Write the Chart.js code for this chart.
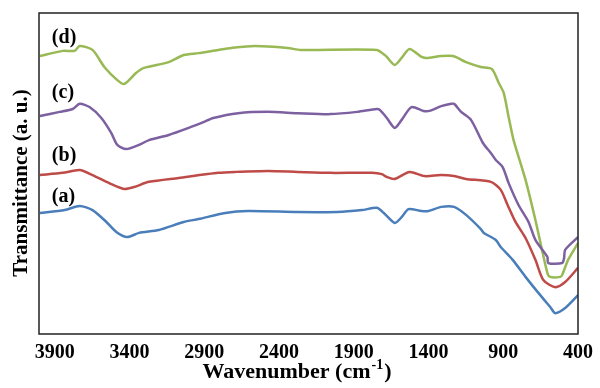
<!DOCTYPE html>
<html>
<head>
<meta charset="utf-8">
<script src="https://cdn.jsdelivr.net/npm/chart.js@4"></script>
<style>
body { margin: 0; background: #fff; }
#wrap { width: 600px; height: 388px; }
</style>
</head>
<body>
<div id="wrap"><canvas id="ftir"></canvas></div>
<script>
// x tick labels (wavenumber, cm-1)
var tickVals = [3900, 3400, 2900, 2400, 1900, 1400, 900, 400];

// (a) blue
var wnA = [4000,3834,3734,3648,3555,3489,3416,3337,3204,3038,2939,2760,2607,2276,2011,1845,1746,1699,1626,1580,1534,1447,1401,1315,1229,1149,1050,1030,950,917,837,751,665,586,552,486,400];
var tA = [37.7,38.6,39.9,38.6,34.9,31.8,30.2,31.5,32.4,34.9,35.8,37.7,38.3,38.0,38.0,38.6,39.3,37.7,34.6,36.4,38.9,38.3,38.3,39.6,39.6,37.1,32.7,31.5,29.3,27.1,23.1,17.8,12.8,8.4,6.5,8.1,12.1];

// (b) red
var wnB = [4000,3847,3734,3648,3536,3436,3370,3270,3072,2806,2694,2475,2276,2057,1779,1712,1679,1626,1527,1428,1315,1229,1149,983,917,871,818,751,685,632,552,486,400];
var tB = [49.5,50.2,51.1,49.5,47.0,45.2,45.8,47.4,48.6,50.2,50.5,50.8,50.5,50.2,50.2,49.8,48.9,48.3,50.5,49.2,49.5,49.2,48.3,47.4,44.9,40.2,34.9,29.9,23.1,16.8,14.6,16.2,20.6];

// (c) purple
var wnC = [4000,3867,3781,3734,3668,3589,3522,3482,3423,3337,3270,3138,3005,2906,2840,2674,2475,2276,2057,1878,1746,1726,1679,1626,1580,1514,1434,1394,1315,1248,1229,1182,1116,1036,983,950,904,864,798,731,685,605,599,506,493,486,400];
var tC = [67.9,69.2,70.1,71.7,70.7,67.3,62.6,58.9,57.6,58.9,60.4,62.0,64.2,66.0,67.3,68.8,69.2,68.8,68.5,69.2,70.1,69.8,67.3,64.2,66.7,70.7,69.5,69.5,71.0,71.7,71.7,69.2,66.7,59.5,56.4,54.2,52.0,47.0,40.2,34.9,29.3,24.0,22.1,22.1,23.7,26.2,30.2];

// (d) green
var wnD = [4000,3847,3768,3734,3648,3569,3482,3436,3357,3304,3138,3038,2939,2806,2720,2561,2342,2256,1746,1693,1679,1626,1580,1527,1447,1414,1315,1235,1149,1050,977,930,897,864,831,751,685,605,586,519,506,466,400];
var tD = [86.6,88.2,88.2,89.7,88.5,83.2,79.1,77.9,81.3,82.9,84.7,86.9,87.5,88.5,89.1,89.7,89.1,88.5,88.5,86.9,86.3,83.8,86.0,88.8,86.3,86.0,86.6,86.6,84.7,83.2,82.6,78.2,75.1,67.6,60.4,48.0,35.5,19.0,17.8,17.8,18.4,23.1,28.3];

var curveNames = ["(a)", "(b)", "(c)", "(d)"];
var nameY = [42.7, 55.5, 75.1, 92.2];
var nameX = 3920;

function pts(wn, t) {
  var out = [];
  for (var i = 0; i < wn.length; i++) out.push({x: wn[i], y: t[i]});
  return out;
}

function line(lbl, wn, t, col) {
  return {
    label: lbl,
    data: pts(wn, t),
    borderColor: col,
    borderWidth: 2.5,
    pointRadius: 0,
    tension: 0.25,
    fill: false
  };
}

var serif = '"Liberation Serif", "Times New Roman", serif';

var decor = {
  id: 'decor',
  afterDatasetsDraw: function (chart) {
    var ctx = chart.ctx;
    var a = chart.chartArea;
    var xs = chart.scales.x, ys = chart.scales.y;
    ctx.save();
    ctx.strokeStyle = '#222';
    ctx.lineWidth = 1.5;
    ctx.strokeRect(a.left, a.top, a.right - a.left, a.bottom - a.top);

    ctx.fillStyle = '#000';
    ctx.font = 'bold 20px ' + serif;
    ctx.textAlign = 'left';
    ctx.textBaseline = 'middle';
    for (var i = 0; i < curveNames.length; i++) {
      ctx.fillText(curveNames[i], xs.getPixelForValue(nameX), ys.getPixelForValue(nameY[i]));
    }

    // y title
    ctx.save();
    ctx.translate(22, 183);
    ctx.rotate(-Math.PI / 2);
    ctx.textAlign = 'center';
    ctx.font = 'bold 21px ' + serif;
    ctx.fillText('Transmittance (a. u.)', 0, 0);
    ctx.restore();

    // x title with superscript
    ctx.textBaseline = 'alphabetic';
    ctx.textAlign = 'left';
    var main = 'Wavenumber (cm', sup = '-1', close = ')';
    ctx.font = 'bold 22px ' + serif;
    var w1 = ctx.measureText(main).width, w3 = ctx.measureText(close).width;
    ctx.font = 'bold 14px ' + serif;
    var w2 = ctx.measureText(sup).width;
    var x0 = 296 - (w1 + w2 + w3) / 2, base = 378;
    ctx.font = 'bold 22px ' + serif;
    ctx.fillText(main, x0, base);
    ctx.font = 'bold 14px ' + serif;
    ctx.fillText(sup, x0 + w1 + 1, base - 9);
    ctx.font = 'bold 22px ' + serif;
    ctx.fillText(close, x0 + w1 + w2 + 2, base);
    ctx.restore();
  }
};

var ctx = document.getElementById('ftir');
var ftirChart = new Chart(ctx, {
  type: 'line',
  data: {
    datasets: [
      line('(a)', wnA, tA, '#4a7ebb'),
      line('(b)', wnB, tB, '#be4b48'),
      line('(c)', wnC, tC, '#7d60a0'),
      line('(d)', wnD, tD, '#98b954')
    ]
  },
  options: {
    responsive: true,
    maintainAspectRatio: false,
    animation: false,
    layout: { padding: { left: 39, top: 13, right: 17, bottom: 0 } },
    plugins: { legend: { display: false }, tooltip: { enabled: false } },
    scales: {
      x: {
        type: 'linear',
        reverse: true,
        min: 400,
        max: 4006,
        grid: { display: false, drawTicks: false },
        border: { display: false },
        afterBuildTicks: function (s) {
          s.ticks = tickVals.map(function (v) { return {value: v}; });
        },
        afterFit: function (s) { s.height = 54; },
        ticks: {
          color: '#000',
          font: { family: serif, size: 20, weight: 'bold' },
          maxRotation: 0,
          autoSkip: false,
          padding: 7,
          callback: function (v) { return String(v); }
        }
      },
      y: {
        display: false,
        min: 0,
        max: 100
      }
    }
  },
  plugins: [decor]
});
</script>
</body>
</html>
